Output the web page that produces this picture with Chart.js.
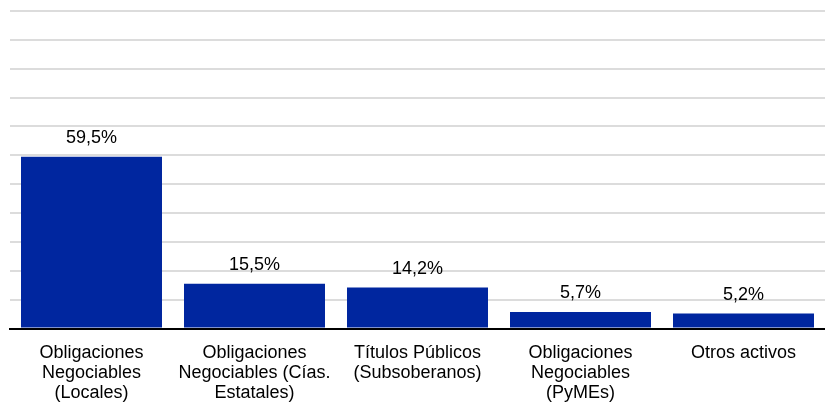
<!DOCTYPE html>
<html lang="es">
<head>
    <meta charset="UTF-8" />
    <title>Composición de cartera</title>
    <style>
        body { margin: 0; background: #fff; overflow: hidden; }
        #wrap { width: 825px; height: 402px; }
    </style>
</head>
<body>
    <div id="wrap"><canvas id="chart"></canvas></div>

    <script src="https://cdn.jsdelivr.net/npm/chart.js"></script>
    <script>
        const categories = [
            ['Obligaciones', 'Negociables', '(Locales)'],
            ['Obligaciones', 'Negociables (Cías.', 'Estatales)'],
            ['Títulos Públicos', '(Subsoberanos)'],
            ['Obligaciones', 'Negociables', '(PyMEs)'],
            ['Otros activos']
        ];
        const shares = [59.5, 15.5, 14.2, 5.7, 5.2];

        // values written above each bar, comma decimals
        const barLabels = {
            id: 'barLabels',
            afterDatasetsDraw(chart) {
                const ctx = chart.ctx;
                const meta = chart.getDatasetMeta(0);
                ctx.save();
                ctx.font = '18px "Liberation Sans", Arial, sans-serif';
                ctx.fillStyle = '#000';
                ctx.textAlign = 'center';
                ctx.textBaseline = 'alphabetic';
                meta.data.forEach((bar, i) => {
                    const txt = shares[i].toFixed(1).replace('.', ',') + '%';
                    ctx.fillText(txt, bar.x, bar.y - 14);
                });
                ctx.restore();
            }
        };

        new Chart(document.getElementById('chart'), {
            type: 'bar',
            data: {
                labels: categories,
                datasets: [{
                    data: shares,
                    backgroundColor: '#00269f',
                    borderWidth: 0,
                    categoryPercentage: 1,
                    barPercentage: 0.865
                }]
            },
            options: {
                responsive: true,
                maintainAspectRatio: false,
                animation: false,
                layout: { padding: { top: 11, left: 10, right: 0, bottom: -15 } },
                plugins: {
                    legend: { display: false },
                    tooltip: { enabled: false }
                },
                scales: {
                    x: {
                        grid: { display: false, drawTicks: false },
                        border: { display: true, color: '#000', width: 2 },
                        ticks: {
                            color: '#000',
                            padding: 14,
                            maxRotation: 0,
                            autoSkip: false,
                            font: { family: '"Liberation Sans", Arial, sans-serif', size: 18, lineHeight: 1.12 }
                        }
                    },
                    y: {
                        min: 0,
                        max: 110,
                        ticks: { display: false, stepSize: 10 },
                        grid: { color: '#dcdcdc', lineWidth: 2, drawTicks: false },
                        border: { display: false }
                    }
                }
            },
            plugins: [barLabels]
        });
    </script>
</body>
</html>
